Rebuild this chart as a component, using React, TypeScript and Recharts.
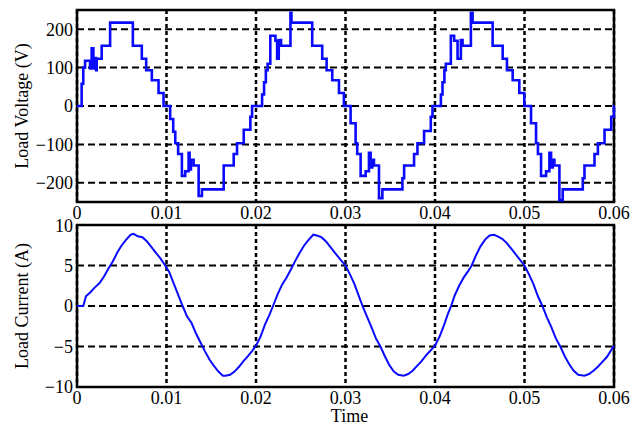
import { LineChart, Line, XAxis, YAxis, CartesianGrid, ReferenceArea } from 'recharts';

// time ticks (s)
const timeTicks = [0, 0.01, 0.02, 0.03, 0.04, 0.05, 0.06];
const voltageTicks = [-200, -100, 0, 100, 200];
const currentTicks = [-10, -5, 0, 5, 10];

// voltage steps [time, volts], one list per cycle
const voltageCycle1: [number, number][] = [
  [0, 0], [0.00052, 58], [0.0007, 100], [0.0009, 118], [0.00146, 98], [0.00164, 150],
  [0.00183, 98], [0.00202, 125], [0.00213, 93], [0.0022, 123], [0.00276, 157], [0.0037, 217],
  [0.00624, 157], [0.00724, 123], [0.00773, 93], [0.00836, 67], [0.00911, 34], [0.00967, 0],
  [0.01041, -34], [0.01075, -67], [0.01098, -97], [0.0113, -125], [0.01172, -182], [0.01209, -170],
  [0.01247, -122], [0.01258, -165], [0.01273, -140], [0.01303, -155], [0.01359, -234], [0.01396, -217],
  [0.01639, -155], [0.01751, -125], [0.01788, -97], [0.01863, -62], [0.01937, -28], [0.01956, 0],
];
const voltageCycle2: [number, number][] = [
  [0.02068, 30], [0.0209, 62], [0.0211, 93], [0.0213, 110], [0.0216, 183], [0.02217, 170],
  [0.02236, 123], [0.02254, 172], [0.0228, 157], [0.02385, 243], [0.02396, 217], [0.02628, 157],
  [0.0274, 123], [0.02789, 93], [0.02852, 67], [0.02927, 34], [0.02982, 0], [0.03057, -45],
  [0.03113, -97], [0.03131, -125], [0.03169, -182], [0.03225, -170], [0.03262, -122], [0.03281, -160],
  [0.033, -140], [0.03318, -155], [0.03374, -240], [0.03412, -217], [0.03636, -188], [0.03655, -155],
  [0.03766, -125], [0.03804, -97], [0.03878, -65], [0.03953, -28], [0.03972, 0],
];
const voltageCycle3: [number, number][] = [
  [0.04066, 30], [0.04084, 62], [0.04105, 93], [0.04121, 110], [0.04177, 183], [0.04214, 170],
  [0.04252, 123], [0.04289, 172], [0.04308, 157], [0.04401, 243], [0.0442, 217], [0.04644, 157],
  [0.04756, 123], [0.04804, 93], [0.04868, 67], [0.04942, 34], [0.04998, 0], [0.05073, -45],
  [0.05129, -97], [0.0515, -125], [0.05185, -182], [0.05241, -170], [0.05278, -122], [0.05297, -160],
  [0.05315, -140], [0.05334, -155], [0.0539, -245], [0.05427, -217], [0.05651, -188], [0.0567, -155],
  [0.05782, -125], [0.0582, -97], [0.05894, -62], [0.05969, -28], [0.05999, 0], [0.06, 0],
];

// load current samples [time, amps]
const currentCycle1: [number, number][] = [
  [0, 0], [0.0007, 0], [0.001, 1.2], [0.0015, 1.7], [0.002, 2.3], [0.0025, 2.8], [0.003, 3.6],
  [0.0035, 4.6], [0.004, 5.5], [0.0045, 6.6], [0.005, 7.5], [0.0055, 8.2], [0.006, 8.8], [0.0063, 8.9],
  [0.0068, 8.6], [0.0073, 8.5], [0.0078, 8.0], [0.0083, 7.3], [0.0088, 6.6], [0.0093, 5.9], [0.0098, 5.1],
  [0.0103, 4.2], [0.0108, 2.8], [0.0113, 1.4], [0.0118, 0], [0.0123, -1.3], [0.0128, -2.1], [0.0133, -3.4],
  [0.0138, -4.5], [0.0143, -5.6], [0.0148, -6.6], [0.0153, -7.4], [0.0158, -8.1], [0.0163, -8.6],
  [0.0166, -8.6], [0.0171, -8.5], [0.0176, -8.1], [0.0181, -7.5], [0.0186, -6.8], [0.0191, -6.2],
  [0.0196, -5.5],
];
const currentCycle2: [number, number][] = [
  [0.02, -4.9], [0.0205, -3.8], [0.021, -2.3], [0.0215, -1.1], [0.0219, 0], [0.0224, 1.4], [0.0229, 2.6],
  [0.0234, 3.5], [0.0239, 4.5], [0.0244, 5.6], [0.0249, 6.6], [0.0254, 7.5], [0.0259, 8.2], [0.0264, 8.8],
  [0.0268, 8.7], [0.0273, 8.5], [0.0278, 8.0], [0.0283, 7.3], [0.0288, 6.6], [0.0293, 5.9], [0.03, 5.0],
  [0.0305, 3.9], [0.031, 2.7], [0.0314, 1.5], [0.0319, 0], [0.0324, -1.3], [0.0329, -2.6], [0.0334, -4.0],
  [0.0339, -5.0], [0.0344, -6.2], [0.0349, -7.3], [0.0354, -8.1], [0.0359, -8.5], [0.0365, -8.6],
  [0.037, -8.4], [0.0375, -8.0], [0.038, -7.4], [0.0385, -6.8], [0.039, -6.1], [0.0395, -5.5],
];
const currentCycle3: [number, number][] = [
  [0.04, -4.9], [0.0405, -3.8], [0.041, -2.4], [0.0414, -1.1], [0.0418, 0], [0.0422, 1.3], [0.0427, 2.5],
  [0.0432, 3.5], [0.0437, 4.3], [0.0441, 5.0], [0.0446, 6.3], [0.0451, 7.4], [0.0456, 8.2], [0.0461, 8.7],
  [0.0466, 8.8], [0.047, 8.6], [0.0475, 8.3], [0.048, 7.8], [0.0485, 7.1], [0.049, 6.4], [0.0495, 5.7],
  [0.05, 5.0], [0.0505, 3.9], [0.051, 2.7], [0.0515, 1.2], [0.052, 0], [0.0525, -1.4], [0.053, -2.6],
  [0.0535, -4.0], [0.054, -5.0], [0.0545, -6.2], [0.055, -7.2], [0.0555, -8.0], [0.056, -8.5],
  [0.0567, -8.6], [0.0572, -8.4], [0.0577, -8.0], [0.0582, -7.5], [0.0587, -6.9], [0.0592, -6.3],
  [0.0596, -5.6], [0.06, -4.9],
];

const voltageData = [...voltageCycle1, ...voltageCycle2, ...voltageCycle3].map(([t, v]) => ({ t, v }));
const currentData = [...currentCycle1, ...currentCycle2, ...currentCycle3].map(([t, v]) => ({ t, v }));

const FONT = 'Liberation Serif, Times New Roman, serif';
const tickStyle = { fill: '#000', fontSize: 18, fontFamily: FONT };
const fmt = (n: number) => String(n).replace('-', '\u2212');

function Panel({
  data, domain, yTicks, label, height, xHeight, step, xLabel,
}: {
  data: { t: number; v: number }[];
  domain: [number, number];
  yTicks: number[];
  label: string;
  height: number;
  xHeight: number;
  step?: boolean;
  xLabel?: string;
}) {
  return (
    <LineChart width={636} height={height} data={data} margin={{ top: 10, right: 22, left: 0, bottom: 0 }}>
      <CartesianGrid horizontal={false} stroke="#000" strokeWidth={2.5} strokeDasharray="4 3" />
      <CartesianGrid vertical={false} stroke="#000" strokeWidth={2} strokeDasharray="7 4" />
      <XAxis
        dataKey="t"
        type="number"
        domain={[0, 0.06]}
        ticks={timeTicks}
        tickFormatter={fmt}
        tick={tickStyle}
        tickSize={0}
        tickMargin={4}
        axisLine={false}
        height={xHeight}
        label={xLabel ? { value: xLabel, position: 'insideBottom', offset: 6, dx: 4, style: { fill: '#000', fontSize: 18, fontFamily: FONT } } : undefined}
      />
      <YAxis
        type="number"
        domain={domain}
        ticks={yTicks}
        tickFormatter={fmt}
        tick={tickStyle}
        tickSize={0}
        tickMargin={4}
        axisLine={false}
        width={77}
        label={{ value: label, angle: -90, position: 'insideLeft', offset: 22, style: { textAnchor: 'middle', fill: '#000', fontSize: 18, fontFamily: FONT } }}
      />
      <Line
        type={step ? 'stepAfter' : 'linear'}
        dataKey="v"
        stroke="#0a0aff"
        strokeWidth={step ? 2.6 : 2}
        dot={false}
        isAnimationActive={false}
      />
      <ReferenceArea x1={0} x2={0.06} y1={domain[0]} y2={domain[1]} fill="none" stroke="#000" strokeWidth={2.5} />
    </LineChart>
  );
}

export default function App() {
  return (
    <div style={{ position: 'absolute', top: 0, left: 0, width: 636, height: 428, background: '#fff' }}>
      <div style={{ position: 'absolute', top: 0, left: 0 }}>
        <Panel data={voltageData} domain={[-250, 250]} yTicks={voltageTicks} label="Load Voltage (V)" height={222} xHeight={20} step />
      </div>
      <div style={{ position: 'absolute', top: 215, left: 0 }}>
        <Panel data={currentData} domain={[-10, 10]} yTicks={currentTicks} label="Load Current (A)" height={213} xHeight={41} xLabel="Time" />
      </div>
    </div>
  );
}
